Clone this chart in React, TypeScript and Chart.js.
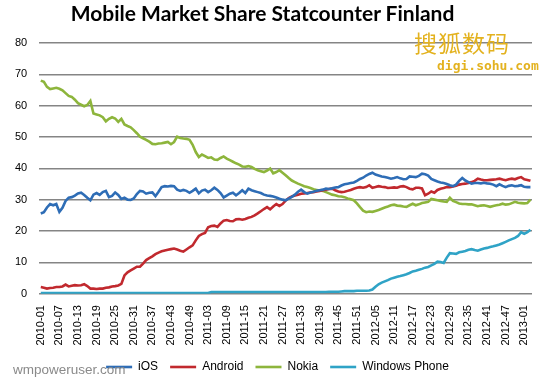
import React, { useEffect, useRef } from "react";
import { Chart, registerables } from "chart.js";

Chart.register(...registerables);

// Weekly categories 2010-01 .. 2013-03 (52 weeks per year as in the source)
const categories: string[] = [];
for (let i = 0; i < 159; i++) {
  const y = 2010 + Math.floor(i / 52);
  const w = (i % 52) + 1;
  categories.push(`${y}-${w < 10 ? "0" + w : w}`);
}

const tickLabels = [
  "2010-01", "2010-07", "2010-13", "2010-19", "2010-25", "2010-31", "2010-37", "2010-43", "2010-49",
  "2011-03", "2011-09", "2011-15", "2011-21", "2011-27", "2011-33", "2011-39", "2011-45", "2011-51",
  "2012-05", "2012-11", "2012-17", "2012-23", "2012-29", "2012-35", "2012-41", "2012-47", "2013-01",
];

const iosValues = [
  25.6, 26, 27.5, 28.6, 28.2, 28.6, 26.1, 27.4, 29.6, 30.6,
  30.8, 31.3, 32, 32.2, 31.5, 30.6, 29.8, 31.6, 32.1, 31.5,
  32.4, 32.8, 30.8, 31.2, 32.3, 31.5, 30.2, 30.6, 30, 29.9,
  30.4, 31.8, 32.8, 32.6, 31.9, 32.2, 32.3, 31.1, 32.5, 34,
  34.3, 34.2, 34.4, 34.3, 33.2, 32.8, 33.1, 32.8, 32.2, 32.8,
  33.5, 32, 32.9, 33.2, 32.4, 33, 33.8, 33.1, 32.1, 30.7,
  31.3, 31.9, 32.2, 31.4, 32.1, 33, 32.1, 33.5, 33, 32.7,
  32.4, 32.1, 31.6, 31.3, 31.2, 31, 30.7, 30.3, 30, 29.8,
  30.3, 30.9, 31.6, 32.5, 33.2, 32.4, 31.9, 32.3, 32.5, 32.8,
  33, 33.2, 33.5, 33.4, 33.6, 33.9, 34, 34.5, 34.9, 35.1,
  35.3, 35.5, 36, 36.6, 37, 37.7, 38.2, 38.6, 38, 37.7,
  37.4, 37.2, 37, 36.7, 36.9, 37.2, 36.8, 36.5, 36.6, 37.4,
  37.3, 37.2, 37.6, 38.3, 38.1, 37.7, 36.6, 36.2, 35.8, 35.5,
  35.3, 35, 34.6, 34.3, 34.8, 36, 36.9, 36.1, 35.6, 35.1,
  35.3, 35.3, 35.2, 35.4, 35.2, 35.1, 34.8, 34.3, 34.9, 34.4,
  34, 34.4, 34.6, 34.3, 34.4, 34.6, 34.1, 34, 34,
];

const androidValues = [
  2.1, 1.9, 1.6, 1.8, 1.9, 2.1, 2.1, 2.3, 2.9, 2.3,
  2.5, 2.7, 2.6, 2.7, 3, 2.4, 1.6, 1.6, 1.5, 1.6,
  1.6, 1.9, 2, 2.3, 2.4, 2.6, 3.1, 5.8, 6.8, 7.4,
  8, 8.6, 8.6, 9.6, 10.7, 11.3, 11.9, 12.6, 13.1, 13.5,
  13.8, 14, 14.2, 14.4, 14.1, 13.7, 13.4, 14.1, 14.8, 15.4,
  17, 18.4, 19, 19.4, 21.2, 21.6, 21.7, 21.3, 22.4, 23.3,
  23.5, 23.2, 23.1, 23.7, 23.8, 23.6, 23.8, 24.2, 24.5, 25,
  25.6, 26.3, 27, 27.6, 26.9, 27.8, 28.6, 28, 28.6, 29.7,
  30.5, 31, 31.3, 31.6, 31.9, 32, 32.1, 32.3, 32.4, 32.6,
  32.8, 33, 33.2, 33.4, 33.5, 33, 32.6, 32.4, 32.5, 32.8,
  33.1, 33.5, 33.8, 34, 33.8, 34, 34.6, 33.8, 34, 34.3,
  34.1, 34, 33.7, 33.8, 33.9, 33.8, 34.2, 34.3, 34, 33.5,
  33.3, 33.8, 33.8, 33.6, 31.4, 31.9, 32.6, 32.2, 33.1, 33.5,
  33.7, 34, 34, 34.2, 34.4, 34.8, 35, 35.1, 35.3, 35.6,
  36, 36.7, 36.4, 36.2, 36.2, 36.3, 36.4, 36.5, 36.7, 36.4,
  36.2, 36.5, 36.7, 36.5, 36.9, 37.2, 36.5, 36.3, 36,
];

const nokiaValues = [
  68, 67.6, 66, 65.3, 65.5, 65.7, 65.4, 64.9, 64, 63.1,
  62.8, 61.9, 60.8, 60.3, 59.8, 60.2, 61.5, 57.5, 57.2, 56.9,
  56.3, 55, 55.8, 56.3, 55.9, 54.8, 55.8, 54, 53.5, 53.1,
  52.2, 51.2, 50.1, 49.6, 49.1, 48.5, 47.8, 47.7, 47.9, 48,
  48.2, 48.4, 47.7, 48.4, 50.1, 49.7, 49.5, 49.4, 49.1, 47.5,
  45.2, 43.6, 44.4, 43.9, 43.3, 43.5, 42.8, 42.7, 43.3, 43.8,
  43.1, 42.6, 42.1, 41.6, 41.2, 40.6, 40.5, 40.7, 40.4, 39.8,
  39.4, 39.1, 38.8, 39.3, 39.9, 38.4, 38.8, 39.4, 38.6, 37.8,
  36.9, 36.1, 35.6, 35.1, 34.7, 34.3, 34, 33.7, 33.3, 33.1,
  32.9, 32.8, 32.4, 32, 31.6, 31.4, 31.1, 31, 30.8, 30.4,
  30.1, 29.8, 28.8, 27.6, 26.5, 26, 26.2, 26.1, 26.4, 26.7,
  27.1, 27.5, 27.8, 28.2, 28.4, 28.1, 28, 27.8, 27.7, 28.2,
  28.7, 28.2, 28.5, 28.9, 29.1, 29.3, 30.2, 30, 29.8, 29.6,
  29.4, 29.3, 30.6, 29.6, 29.2, 28.8, 28.6, 28.6, 28.5, 28.5,
  28.2, 27.9, 28.1, 28.2, 28, 27.7, 28, 28.2, 28.4, 28.7,
  28.4, 28.5, 28.9, 29.3, 29, 28.9, 28.8, 28.9, 30,
];

const windowsPhoneValues = [
  0.2, 0.2, 0.2, 0.2, 0.2, 0.2, 0.2, 0.2, 0.2, 0.2,
  0.2, 0.2, 0.2, 0.2, 0.2, 0.2, 0.2, 0.2, 0.2, 0.2,
  0.2, 0.2, 0.2, 0.2, 0.2, 0.2, 0.2, 0.2, 0.2, 0.2,
  0.2, 0.2, 0.2, 0.2, 0.2, 0.2, 0.2, 0.2, 0.2, 0.2,
  0.2, 0.2, 0.2, 0.2, 0.2, 0.2, 0.2, 0.2, 0.2, 0.2,
  0.2, 0.2, 0.2, 0.2, 0.2, 0.5, 0.5, 0.5, 0.5, 0.5,
  0.5, 0.5, 0.5, 0.5, 0.5, 0.5, 0.5, 0.5, 0.5, 0.5,
  0.5, 0.5, 0.5, 0.5, 0.5, 0.5, 0.5, 0.5, 0.5, 0.5,
  0.5, 0.5, 0.5, 0.5, 0.5, 0.5, 0.5, 0.5, 0.5, 0.5,
  0.5, 0.5, 0.5, 0.6, 0.6, 0.6, 0.6, 0.7, 0.8, 0.8,
  0.8, 0.8, 0.9, 0.9, 0.9, 0.9, 1, 1.3, 2.2, 3,
  3.5, 3.9, 4.3, 4.8, 5.1, 5.4, 5.6, 5.9, 6.2, 6.6,
  7.1, 7.3, 7.6, 7.9, 8.3, 8.5, 9, 9.5, 10.2, 10.1,
  9.8, 11.5, 12.9, 12.8, 12.7, 13.2, 13.4, 13.6, 14, 14.2,
  13.9, 13.7, 14.1, 14.4, 14.6, 14.9, 15.1, 15.4, 15.7, 16.1,
  16.5, 17, 17.4, 17.8, 18.4, 19.6, 19.1, 19.6, 20.4,
];

const seriesNames = ["iOS", "Android", "Nokia", "Windows Phone"];
const seriesColors = ["#2E6DB6", "#C1292E", "#8DB53C", "#2FA3C6"];

// Nudges the legend block sideways so it is centred like the original figure.
const legendShift = {
  id: "legendShift",
  afterLayout(chart: any) {
    const lg = chart.legend;
    if (lg) {
      lg.left += 10;
      lg.right += 10;
    }
  },
};

export default function App() {
  const canvasRef = useRef<HTMLCanvasElement | null>(null);

  useEffect(() => {
    if (!canvasRef.current) return;
    const values = [iosValues, androidValues, nokiaValues, windowsPhoneValues];
    const chart = new Chart(canvasRef.current, {
      type: "line",
      data: {
        labels: categories,
        datasets: seriesNames.map((name, k) => ({
          label: name,
          data: values[k],
          borderColor: seriesColors[k],
          backgroundColor: seriesColors[k],
          borderWidth: 2.6,
          pointRadius: 0,
          tension: 0,
          fill: false,
        })),
      },
      plugins: [legendShift],
      options: {
        animation: false,
        responsive: false,
        maintainAspectRatio: false,
        layout: { padding: { left: 3, right: 18, top: 43, bottom: -5 } },
        plugins: {
          title: { display: false },
          legend: {
            position: "bottom",
            labels: {
              usePointStyle: true,
              pointStyle: "line",
              pointStyleWidth: 26,
              boxHeight: 12,
              padding: 12,
              color: "#000",
              font: { family: "Liberation Sans", size: 12 },
            },
          },
          tooltip: { enabled: false },
        },
        scales: {
          x: {
            type: "category",
            offset: true,
            grid: { display: false },
            border: { display: false },
            ticks: {
              autoSkip: false,
              maxRotation: 90,
              minRotation: 90,
              padding: 3.5,
              color: "#000",
              font: { family: "Liberation Sans", size: 11 },
              callback: function (_v: any, index: number) {
                const lab = categories[index];
                return tickLabels.indexOf(lab) >= 0 ? lab : "";
              },
            },
          },
          y: {
            min: 0,
            max: 80,
            border: { display: false },
            grid: { color: "#858585", lineWidth: 1.5, drawTicks: false },
            ticks: {
              stepSize: 10,
              padding: 12,
              color: "#000",
              font: { family: "Liberation Sans", size: 11 },
            },
          },
        },
      },
    });
    return () => chart.destroy();
  }, []);

  return (
    <div style={{ position: "fixed", left: 0, top: 0, width: 550, height: 378, background: "#fff", overflow: "hidden" }}>
      <canvas ref={canvasRef} width={550} height={378} style={{ width: 550, height: 378, display: "block" }} />
      <div
        style={{
          position: "absolute", left: 0, top: 0, width: 525, textAlign: "center",
          fontFamily: "Lato", fontWeight: "bold", fontSize: 21, color: "#000", lineHeight: "25px",
        }}
      >
        Mobile Market Share Statcounter Finland
      </div>
      <div
        style={{
          position: "absolute", left: 414, top: 28, fontFamily: "Noto Sans CJK SC",
          fontSize: 23, color: "#E3B21F", letterSpacing: 1, lineHeight: "28px",
        }}
      >
        搜狐数码
      </div>
      <div
        style={{
          position: "absolute", left: 437, top: 58, fontFamily: "DejaVu Sans Mono",
          fontWeight: "bold", fontSize: 13, color: "#E3B21F", lineHeight: "16px",
        }}
      >
        digi.sohu.com
      </div>
      <div
        style={{
          position: "absolute", left: 13, top: 361, fontFamily: "Liberation Sans",
          fontSize: 13.5, color: "#8a8a8a", lineHeight: "17px",
        }}
      >
        wmpoweruser.com
      </div>
    </div>
  );
}
